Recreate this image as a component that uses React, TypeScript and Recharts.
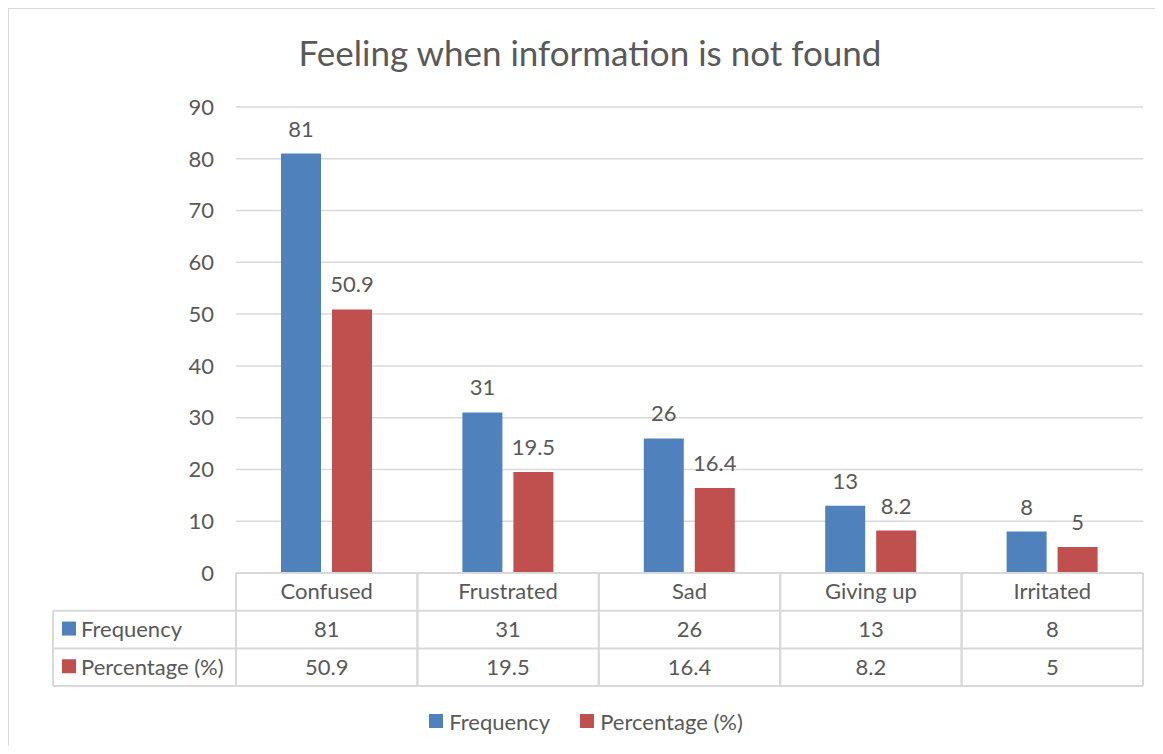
import { BarChart, Bar, XAxis, YAxis, CartesianGrid, LabelList, Legend } from "recharts"

const categories = ["Confused", "Frustrated", "Sad", "Giving up", "Irritated"]
const frequency = [81, 31, 26, 13, 8]
const percentage = [50.9, 19.5, 16.4, 8.2, 5]
const yTicks = [0, 10, 20, 30, 40, 50, 60, 70, 80, 90]
const seriesNames = ["Frequency", "Percentage (%)"]

const data = categories.map((name, i) => ({
  name,
  frequency: frequency[i],
  percentage: percentage[i],
}))

const BLUE = "#4f81bd"
const RED = "#c0504d"
const TEXT = "#595959"
const GRID = "#d9d9d9"
const FONT = "Lato, 'Open Sans', sans-serif"
const FS = 22
const colors = [BLUE, RED]

const CHART_W = 1154
const CHART_H = 737
const Y_W = 60
const margin = { top: 98, right: 20, left: 227 - Y_W, bottom: 5 }
const PLOT_W = CHART_W - 227 - margin.right
const CELL = PLOT_W / categories.length
const ROW = 37.7
const HEAD_W = 183

function TableTick(props: any) {
  const { x, y, payload, index } = props
  const left = x - CELL / 2
  const right = x + CELL / 2
  const rows = [frequency[index], percentage[index]]
  const hx = left - HEAD_W

  return (
    <g>
      {[0, 1, 2, 3].map((r) => (
        <line key={r} x1={left} x2={right} y1={y + r * ROW} y2={y + r * ROW} stroke={GRID} strokeWidth={2} />
      ))}
      <line x1={left} x2={left} y1={y} y2={y + 3 * ROW} stroke={GRID} strokeWidth={2} />
      <line x1={right} x2={right} y1={y} y2={y + 3 * ROW} stroke={GRID} strokeWidth={2} />
      <text x={x} y={y + ROW / 2 - 1} textAnchor="middle" dominantBaseline="central" fill={TEXT} fontSize={FS} fontFamily={FONT}>
        {payload.value}
      </text>
      {rows.map((v, r) => (
        <text key={r} x={x} y={y + ROW * (r + 1.5) - 1} textAnchor="middle" dominantBaseline="central" fill={TEXT} fontSize={FS} fontFamily={FONT}>
          {v}
        </text>
      ))}
      {index === 0 && (
        <g>
          {[1, 2, 3].map((r) => (
            <line key={r} x1={hx} x2={left} y1={y + r * ROW} y2={y + r * ROW} stroke={GRID} strokeWidth={2} />
          ))}
          <line x1={hx} x2={hx} y1={y + ROW} y2={y + 3 * ROW} stroke={GRID} strokeWidth={2} />
          {seriesNames.map((n, r) => (
            <g key={n}>
              <rect x={hx + 9} y={y + ROW * (r + 1.5) - 8} width={14} height={14} fill={colors[r]} />
              <text x={hx + 28} y={y + ROW * (r + 1.5) - 1} dominantBaseline="central" fill={TEXT} fontSize={FS} fontFamily={FONT}>
                {n}
              </text>
            </g>
          ))}
        </g>
      )}
    </g>
  )
}

const renderLegend = () => (
  <div
    style={{
      height: 40,
      display: "flex",
      justifyContent: "center",
      alignItems: "center",
      gap: 30,
      fontFamily: FONT,
      fontSize: FS,
      color: TEXT,
    }}
  >
    {seriesNames.map((n, i) => (
      <span key={n} style={{ display: "flex", alignItems: "center" }}>
        <span style={{ width: 14, height: 14, background: colors[i], marginRight: 6, display: "inline-block" }} />
        {n}
      </span>
    ))}
  </div>
)

export default function App() {
  return (
    <div
      style={{
        position: "relative",
        width: CHART_W,
        height: CHART_H,
        borderTop: `1px solid ${GRID}`,
        borderLeft: `1px solid ${GRID}`,
        overflow: "hidden",
        background: "#fff",
      }}
    >
      <div
        style={{
          position: "absolute",
          top: 23,
          left: 0,
          width: 1162,
          textAlign: "center",
          fontFamily: FONT,
          fontSize: 35,
          color: TEXT,
          lineHeight: "40px",
        }}
      >
        Feeling when information is not found
      </div>
      <BarChart width={CHART_W} height={CHART_H} data={data} margin={margin} barSize={40} barGap={11}>
        <CartesianGrid vertical={false} stroke={GRID} strokeWidth={1.5} />
        <XAxis
          dataKey="name"
          height={128}
          axisLine={false}
          tickLine={false}
          tickSize={0}
          tickMargin={0}
          interval={0}
          tick={<TableTick />}
        />
        <YAxis
          width={Y_W}
          domain={[0, 90]}
          ticks={yTicks}
          axisLine={false}
          tickLine={false}
          tickMargin={16}
          tick={{ fill: TEXT, fontSize: FS, fontFamily: FONT }}
        />
        <Legend verticalAlign="bottom" content={renderLegend} wrapperStyle={{ left: 0, width: CHART_W }} />
        <Bar dataKey="frequency" name={seriesNames[0]} fill={BLUE} isAnimationActive={false}>
          <LabelList dataKey="frequency" position="top" offset={17} fill={TEXT} fontSize={FS} fontFamily={FONT} />
        </Bar>
        <Bar dataKey="percentage" name={seriesNames[1]} fill={RED} isAnimationActive={false}>
          <LabelList dataKey="percentage" position="top" offset={17} fill={TEXT} fontSize={FS} fontFamily={FONT} />
        </Bar>
      </BarChart>
    </div>
  )
}
